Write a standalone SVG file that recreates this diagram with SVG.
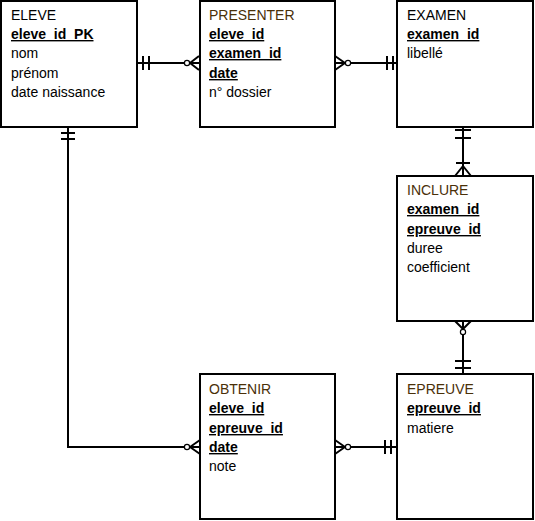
<svg xmlns="http://www.w3.org/2000/svg" width="535" height="521" viewBox="0 0 535 521">
<style>
.box{fill:#fff;stroke:#000;stroke-width:2}
.t{font-family:"Liberation Sans",Arial,sans-serif;font-size:14px;fill:#000}
.h{fill:#4a3008}
.k{font-weight:bold;text-decoration:underline}
.ln{fill:none;stroke:#000;stroke-width:2}
.c{fill:#fff;stroke:#000;stroke-width:1.2}
</style>
<rect width="535" height="521" fill="#fff"/>
<g id="connectors">
  <!-- ELEVE - PRESENTER -->
  <path class="ln" d="M137,63H199M143,56V70M149,56V70M190,63L199,56M190,63L199,70"/>
  <circle class="c" cx="187" cy="63" r="2.6"/>
  <!-- PRESENTER - EXAMEN -->
  <path class="ln" d="M335,63H397M387,56V70M393,56V70M345,63L335,56M345,63L335,70"/>
  <circle class="c" cx="348" cy="63" r="2.6"/>
  <!-- EXAMEN - INCLURE -->
  <path class="ln" d="M463,127V176M455,130H471M455,138H471M456,163H470M463,166L455,176M463,166L471,176"/>
  <!-- INCLURE - EPREUVE -->
  <path class="ln" d="M463,321V374M455,361H471M455,368H471M463,329L455,321M463,329L471,321"/>
  <circle class="c" cx="463" cy="332" r="2.6"/>
  <!-- ELEVE - OBTENIR -->
  <path class="ln" d="M68,127V447H200M61,133H75M61,139H75M190,447L200,440M190,447L200,454"/>
  <circle class="c" cx="187" cy="447" r="2.6"/>
  <!-- OBTENIR - EPREUVE -->
  <path class="ln" d="M335,447H397M385,440V454M391,440V454M345,447L335,440M345,447L335,454"/>
  <circle class="c" cx="348" cy="447" r="2.6"/>
</g>
<g id="eleve">
  <rect class="box" x="1" y="1" width="136" height="126"/>
  <text class="t" x="11" y="20">ELEVE</text>
  <text class="t k" x="11" y="39">eleve_id_PK</text>
  <text class="t" x="11" y="58">nom</text>
  <text class="t" x="11" y="78">prénom</text>
  <text class="t" x="11" y="97">date naissance</text>
</g>
<g id="presenter">
  <rect class="box" x="200" y="1" width="135" height="126"/>
  <text class="t h" x="209" y="20">PRESENTER</text>
  <text class="t k" x="209" y="39">eleve_id</text>
  <text class="t k" x="209" y="58">examen_id</text>
  <text class="t k" x="209" y="78">date</text>
  <text class="t" x="209" y="97">n° dossier</text>
</g>
<g id="examen">
  <rect class="box" x="397" y="1" width="136" height="126"/>
  <text class="t" x="407" y="20">EXAMEN</text>
  <text class="t k" x="407" y="39">examen_id</text>
  <text class="t" x="407" y="58">libellé</text>
</g>
<g id="inclure">
  <rect class="box" x="397" y="176" width="136" height="145"/>
  <text class="t h" x="407" y="195">INCLURE</text>
  <text class="t k" x="407" y="214">examen_id</text>
  <text class="t k" x="407" y="234">epreuve_id</text>
  <text class="t" x="407" y="253">duree</text>
  <text class="t" x="407" y="272">coefficient</text>
</g>
<g id="obtenir">
  <rect class="box" x="200" y="374" width="135" height="145"/>
  <text class="t h" x="209" y="394">OBTENIR</text>
  <text class="t k" x="209" y="413">eleve_id</text>
  <text class="t k" x="209" y="433">epreuve_id</text>
  <text class="t k" x="209" y="452">date</text>
  <text class="t" x="209" y="471">note</text>
</g>
<g id="epreuve">
  <rect class="box" x="397" y="374" width="136" height="145"/>
  <text class="t h" x="407" y="394">EPREUVE</text>
  <text class="t k" x="407" y="413">epreuve_id</text>
  <text class="t" x="407" y="433">matiere</text>
</g>
</svg>
